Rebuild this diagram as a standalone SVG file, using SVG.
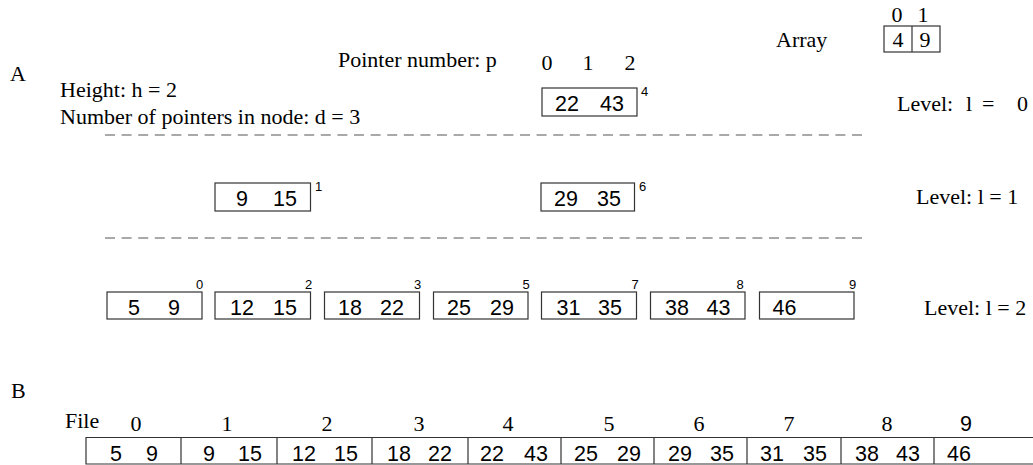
<svg xmlns="http://www.w3.org/2000/svg" width="1033" height="465" viewBox="0 0 1033 465">
<style>
.bg{fill:#ffffff}
.box{fill:none;stroke:#333;stroke-width:1.2}
.sep{fill:none;stroke:#555;stroke-width:1.2;stroke-dasharray:10 6.6}
.serif{font-family:"Liberation Serif","Times New Roman",serif;font-size:22px;fill:#000}
.sans{font-family:"Liberation Sans",Arial,sans-serif;font-size:21.5px;fill:#000}
.sup{font-family:"Liberation Sans",Arial,sans-serif;font-size:13px;fill:#000}
.mid{text-anchor:middle}
</style>
<rect class="bg" x="0" y="0" width="1033" height="465"/>

<g id="labels">
  <text class="serif" x="10" y="81">A</text>
  <text class="serif" x="60" y="97">Height: h = 2</text>
  <text class="serif" x="60" y="124">Number of pointers in node: d = 3</text>
  <text class="serif" x="338" y="67">Pointer number: p</text>
  <text class="serif mid" x="547" y="70">0</text>
  <text class="serif mid" x="588" y="70">1</text>
  <text class="serif mid" x="630" y="70">2</text>
  <text class="serif" y="111"><tspan x="897">Level:</tspan><tspan x="966">l</tspan><tspan x="982">=</tspan><tspan x="1017">0</tspan></text>
  <text class="serif" x="916" y="204">Level: l = 1</text>
  <text class="serif" x="924" y="315">Level: l = 2</text>
  <text class="serif" x="11" y="398">B</text>
  <text class="serif" x="776" y="47">Array</text>
</g>

<g id="array">
  <rect class="box" x="884" y="26" width="56" height="26"/>
  <line class="box" x1="912" y1="26" x2="912" y2="52"/>
  <text class="serif mid" x="897" y="22">0</text>
  <text class="serif mid" x="923" y="22">1</text>
  <text class="serif mid" x="898" y="47">4</text>
  <text class="serif mid" x="925" y="47">9</text>
</g>

<g id="separators">
  <line class="sep" x1="105" y1="135" x2="862" y2="135"/>
  <line class="sep" x1="105" y1="238" x2="862" y2="238"/>
</g>

<g id="connectors"></g>

<g id="node-4">
  <rect class="box" x="542" y="88" width="95" height="28"/>
  <text class="sans" x="555" y="111">22</text>
  <text class="sans" x="600" y="111">43</text>
  <text class="sup" x="641" y="96">4</text>
</g>

<g id="node-1">
  <rect class="box" x="215" y="183" width="95.5" height="28"/>
  <text class="sans" x="236" y="206">9</text>
  <text class="sans" x="273" y="206">15</text>
  <text class="sup" x="315" y="191">1</text>
</g>
<g id="node-6">
  <rect class="box" x="541" y="183" width="93.5" height="28"/>
  <text class="sans" x="554" y="206">29</text>
  <text class="sans" x="597" y="206">35</text>
  <text class="sup" x="639" y="191">6</text>
</g>

<g id="node-0">
  <rect class="box" x="107" y="292" width="95" height="27"/>
  <text class="sans" x="128" y="315">5</text>
  <text class="sans" x="168" y="315">9</text>
  <text class="sup" x="196" y="289">0</text>
</g>
<g id="node-2">
  <rect class="box" x="215" y="292" width="95.5" height="27"/>
  <text class="sans" x="230" y="315">12</text>
  <text class="sans" x="273" y="315">15</text>
  <text class="sup" x="305" y="289">2</text>
</g>
<g id="node-3">
  <rect class="box" x="324.5" y="292" width="95" height="27"/>
  <text class="sans" x="338" y="315">18</text>
  <text class="sans" x="380" y="315">22</text>
  <text class="sup" x="414" y="289">3</text>
</g>
<g id="node-5">
  <rect class="box" x="433.5" y="292" width="94.5" height="27"/>
  <text class="sans" x="447" y="315">25</text>
  <text class="sans" x="490" y="315">29</text>
  <text class="sup" x="522.5" y="289">5</text>
</g>
<g id="node-7">
  <rect class="box" x="541.5" y="292" width="95" height="27"/>
  <text class="sans" x="556.5" y="315">31</text>
  <text class="sans" x="598" y="315">35</text>
  <text class="sup" x="631.5" y="289">7</text>
</g>
<g id="node-8">
  <rect class="box" x="650.5" y="292" width="94.5" height="27"/>
  <text class="sans" x="665" y="315">38</text>
  <text class="sans" x="706.5" y="315">43</text>
  <text class="sup" x="736.5" y="289">8</text>
</g>
<g id="node-9">
  <rect class="box" x="759.5" y="292" width="94.5" height="27"/>
  <text class="sans" x="772.5" y="315">46</text>
  <text class="sup" x="849" y="289">9</text>
</g>

<g id="file">
  <text class="serif" x="65" y="428">File</text>
  <text class="serif mid" x="136" y="431">0</text>
  <text class="serif mid" x="227" y="431">1</text>
  <text class="serif mid" x="327" y="431">2</text>
  <text class="serif mid" x="419" y="431">3</text>
  <text class="serif mid" x="508" y="431">4</text>
  <text class="serif mid" x="609" y="431">5</text>
  <text class="serif mid" x="699" y="431">6</text>
  <text class="serif mid" x="789" y="431">7</text>
  <text class="serif mid" x="887" y="431">8</text>
  <text class="sans mid" x="966" y="431">9</text>
  <path class="box" d="M1034,437.5 H86 V464 H1034"/>
  <path class="box" d="M181,437.5 V464 M277,437.5 V464 M372,437.5 V464 M468,437.5 V464 M561,437.5 V464 M654,437.5 V464 M747,437.5 V464 M841,437.5 V464 M934,437.5 V464"/>
  <text class="sans" x="110" y="461">5</text>
  <text class="sans" x="146" y="461">9</text>
  <text class="sans" x="203" y="461">9</text>
  <text class="sans" x="238" y="461">15</text>
  <text class="sans" x="292" y="461">12</text>
  <text class="sans" x="334" y="461">15</text>
  <text class="sans" x="387" y="461">18</text>
  <text class="sans" x="428" y="461">22</text>
  <text class="sans" x="480" y="461">22</text>
  <text class="sans" x="524" y="461">43</text>
  <text class="sans" x="574" y="461">25</text>
  <text class="sans" x="617" y="461">29</text>
  <text class="sans" x="668" y="461">29</text>
  <text class="sans" x="710" y="461">35</text>
  <text class="sans" x="760" y="461">31</text>
  <text class="sans" x="803" y="461">35</text>
  <text class="sans" x="855" y="461">38</text>
  <text class="sans" x="896" y="461">43</text>
  <text class="sans" x="947" y="461">46</text>
</g>
</svg>
